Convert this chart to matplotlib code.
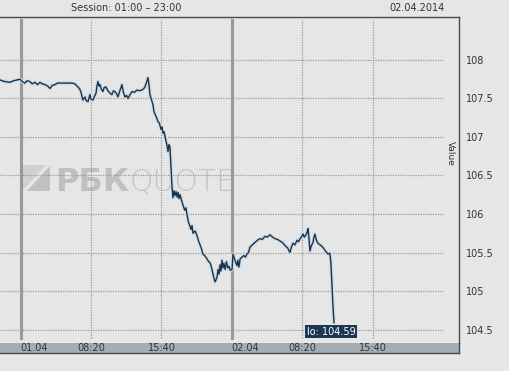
import numpy as np
import matplotlib
matplotlib.use('agg')
import matplotlib.pyplot as plt
from matplotlib.patches import Polygon

# session minutes from 01.04 01:00 (sessions 01:00-23:00 glued together)
minutes = [-129, -100, -67, -45, -23, -4, 10, 27, 40, 58, 72, 89, 105, 121, 135, 152,
           170, 183, 198, 214, 230, 246, 277, 300, 321, 339, 358, 370, 377, 389, 402,
           410, 421, 433, 440, 452, 462, 471, 477, 483, 490, 496, 505, 514, 522, 533,
           545, 558, 570, 580, 589, 600, 608, 620, 633, 642, 652, 662, 671, 684, 696,
           712, 727, 742, 758, 770, 777, 785, 796, 802, 808, 815, 827, 833, 839, 848,
           858, 867, 877, 883, 889, 896, 908, 914, 921, 927, 933, 940, 946, 952, 958,
           965, 971, 978, 984, 990, 996, 1005, 1014, 1025, 1033, 1039, 1048, 1058,
           1065, 1071, 1077, 1090, 1102, 1110, 1121, 1130, 1139, 1150, 1164, 1175,
           1183, 1190, 1202, 1208, 1214, 1220, 1227, 1234, 1240, 1246, 1252, 1258,
           1264, 1270, 1278, 1286, 1295, 1302, 1310, 1321, 1327, 1333, 1339, 1346,
           1352, 1358, 1364, 1372, 1383, 1395, 1405, 1414, 1424, 1433, 1448, 1464,
           1480, 1496, 1510, 1527, 1542, 1558, 1574, 1589, 1605, 1621, 1636, 1652,
           1668, 1683, 1692, 1702, 1715, 1727, 1737, 1746, 1755, 1764, 1773, 1783,
           1790, 1796, 1802, 1808, 1815, 1827, 1833, 1839, 1848, 1858, 1870, 1883,
           1895, 1908, 1921, 1933, 1939, 1946, 1952, 1958]
values = [107.74, 107.72, 107.71, 107.73, 107.74, 107.75, 107.72, 107.70, 107.73, 107.72,
          107.69, 107.71, 107.68, 107.71, 107.69, 107.68, 107.66, 107.63, 107.67, 107.68,
          107.70, 107.70, 107.70, 107.70, 107.70, 107.69, 107.65, 107.62, 107.58, 107.48,
          107.52, 107.47, 107.46, 107.55, 107.49, 107.48, 107.53, 107.57, 107.66, 107.72,
          107.66, 107.68, 107.62, 107.59, 107.64, 107.65, 107.60, 107.57, 107.55, 107.60,
          107.59, 107.56, 107.52, 107.60, 107.68, 107.58, 107.52, 107.54, 107.50, 107.55,
          107.59, 107.58, 107.61, 107.60, 107.61, 107.63, 107.65, 107.70, 107.77, 107.68,
          107.55, 107.50, 107.42, 107.33, 107.30, 107.26, 107.20, 107.18, 107.10, 107.13,
          107.05, 107.07, 106.95, 106.90, 106.81, 106.90, 106.87, 106.60, 106.35, 106.21,
          106.30, 106.24, 106.29, 106.22, 106.28, 106.20, 106.25, 106.18, 106.12, 106.05,
          106.08, 106.00, 105.90, 105.84, 105.80, 105.85, 105.75, 105.78, 105.72, 105.66,
          105.60, 105.55, 105.48, 105.46, 105.42, 105.38, 105.37, 105.33, 105.22, 105.17,
          105.12, 105.14, 105.18, 105.28, 105.22, 105.34, 105.26, 105.40, 105.30, 105.36,
          105.28, 105.38, 105.30, 105.32, 105.27, 105.28, 105.48, 105.44, 105.40, 105.36,
          105.33, 105.40, 105.31, 105.42, 105.44, 105.46, 105.44, 105.48, 105.50, 105.57,
          105.60, 105.63, 105.66, 105.68, 105.67, 105.71, 105.70, 105.73, 105.70, 105.68,
          105.67, 105.65, 105.63, 105.59, 105.56, 105.50, 105.57, 105.62, 105.60, 105.66,
          105.64, 105.68, 105.70, 105.74, 105.70, 105.73, 105.76, 105.81, 105.68, 105.52,
          105.58, 105.63, 105.70, 105.74, 105.66, 105.62, 105.60, 105.58, 105.55, 105.51,
          105.48, 105.49, 105.36, 105.06, 104.80, 104.59]

day_starts = [0, 1320]
day_labels = ['01.04', '02.04']
hour_ticks = [440, 880, 1760, 2200]
hour_labels = ['08:20', '15:40', '08:20', '15:40']
y_ticks = [104.5, 105, 105.5, 106, 106.5, 107, 107.5, 108]

bg = '#e6e6e6'
fig = plt.figure(figsize=(5.09, 3.71), dpi=100, facecolor=bg)
H = 371.0
W = 509.0
ax = fig.add_axes([0, (H - 343) / H, 459 / W, (343 - 17) / H], facecolor=bg)
axb = fig.add_axes([0, (H - 353) / H, 459 / W, 10 / H], facecolor='#a4acb4')

x0 = -129
x1 = (459 - 20.7) / 0.16
ax.set_xlim(x0, x1)
axb.set_xlim(x0, x1)
ax.set_ylim(104.325, 108.558)

# grid
ax.hlines(y_ticks, x0, 2640, colors='#9a9a9a', linestyles=(0, (1, 1)), linewidth=0.9, zorder=1)
for t in hour_ticks:
    ax.axvline(t, ymin=0.015, ymax=0.99, color='#9a9a9a', linestyle=(0, (1, 1)), linewidth=0.9, zorder=1)
for t in day_starts:
    ax.axvline(t, ymin=0.015, ymax=0.99, color='#999999', linewidth=2.2, zorder=1)

# watermark logo
def px(x, y):
    return (x / 459, 1 - (y - 17) / 326)

ax.add_patch(Polygon([px(23, 165), px(46, 165), px(23, 190)], closed=True, transform=ax.transAxes,
                     facecolor='#d0d0d0', edgecolor='none', zorder=0.5))
ax.add_patch(Polygon([px(50, 166), px(50, 191), px(27, 191)], closed=True, transform=ax.transAxes,
                     facecolor='#c0c0c0', edgecolor='none', zorder=0.5))
tx, ty = px(55, 191)
ax.text(tx, ty, 'РБК', transform=ax.transAxes, fontsize=23, fontweight='bold',
        color='#c0c0c0', ha='left', va='baseline', zorder=0.5)
tx, ty = px(130, 191)
ax.text(tx, ty, 'QUOTE', transform=ax.transAxes, fontsize=21.5, fontweight='light',
        color='#c6c6c6', ha='left', va='baseline', zorder=0.5)

# price line
ax.plot(minutes, values, color='#c9dbe8', linewidth=2.6, zorder=2, solid_joinstyle='round')
ax.plot(minutes, values, color='#1f3348', linewidth=1.0, zorder=3)

lo_i = int(np.argmin(values))
ax.annotate('lo: %.2f' % values[lo_i], (minutes[lo_i], values[lo_i]), xytext=(-2, -3),
            textcoords='offset points', ha='center', va='top', fontsize=7, color='white',
            bbox=dict(boxstyle='square,pad=0.15', facecolor='#1c3754', edgecolor='none'), zorder=4)

ax.text(1 - 9 / 459, 1 - (153 - 17) / 326, 'Value', transform=ax.transAxes, rotation=270,
        fontsize=6.5, color='#333333', ha='center', va='center')

# frame
for s in ['left', 'bottom']:
    ax.spines[s].set_visible(False)
for s in ['top', 'right']:
    ax.spines[s].set_color('#4a4a4a')
    ax.spines[s].set_linewidth(1.0)
ax.set_xticks([])
ax.yaxis.tick_right()
ax.set_yticks(y_ticks)
ax.set_yticklabels(['%g' % v for v in y_ticks])
ax.tick_params(axis='y', length=0, pad=5, labelsize=7, labelcolor='#333333')

axb.set_yticks([])
axb.spines['left'].set_visible(False)
axb.spines['top'].set_visible(False)
for s in ['bottom', 'right']:
    axb.spines[s].set_color('#4a4a4a')
    axb.spines[s].set_linewidth(1.0)
axb.set_xticks(day_starts + hour_ticks)
axb.set_xticklabels(day_labels + hour_labels)
axb.tick_params(axis='x', length=0, pad=-7, labelsize=7, labelcolor='#333333')
for lab in axb.get_xticklabels()[:2]:
    lab.set_horizontalalignment('left')

fig.text(126 / W, 1 - 8 / H, 'Session: 01:00 \u2013 23:00', fontsize=7, color='#333333',
         ha='center', va='center')
fig.text(445 / W, 1 - 8 / H, '02.04.2014', fontsize=7, color='#333333', ha='right', va='center')

fig.savefig('out.png', dpi=100, facecolor=bg)
